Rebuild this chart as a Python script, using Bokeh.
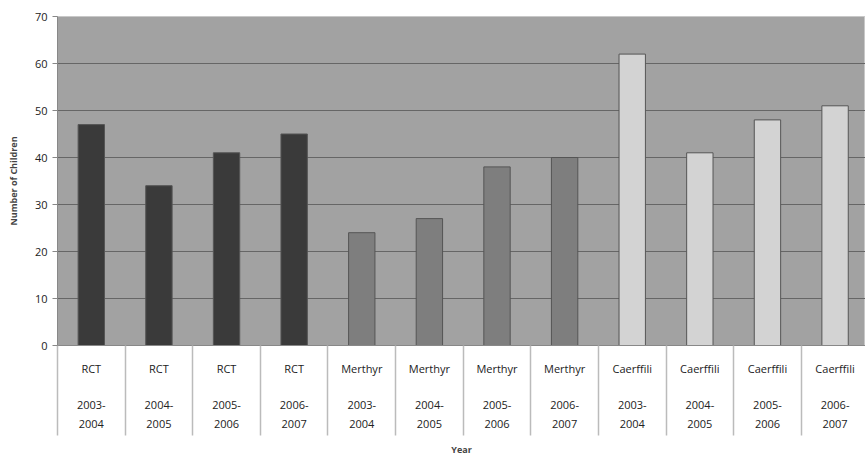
from bokeh.plotting import figure
from bokeh.models import Range1d, FixedTicker, ColumnDataSource
from bokeh.embed import file_html
from bokeh.resources import INLINE

regions = ["RCT"] * 4 + ["Merthyr"] * 4 + ["Caerffili"] * 4
years = ["2003-\n2004", "2004-\n2005", "2005-\n2006", "2006-\n2007"] * 3
values = [47, 34, 41, 45, 24, 27, 38, 40, 62, 41, 48, 51]
colors = ["#3a3a3a"] * 4 + ["#7e7e7e"] * 4 + ["#d3d3d3"] * 4

xs = [i + 0.5 for i in range(len(values))]
src = ColumnDataSource(dict(x=xs, top=values, color=colors))

p = figure(width=865, height=458, output_backend="svg", toolbar_location=None,
           x_range=Range1d(0, 11.95), y_range=Range1d(0, 70),
           min_border_left=57, min_border_right=0, min_border_top=16, min_border_bottom=0)
p.background_fill_color = "#a2a2a2"
p.border_fill_color = "white"
p.outline_line_color = "#c8c8c8"

p.vbar(x="x", top="top", width=0.39, bottom=0, fill_color="color",
       line_color="#555555", line_width=1, source=src)

# y axis
p.yaxis.ticker = FixedTicker(ticks=list(range(0, 71, 10)))
p.yaxis.axis_line_color = "#888888"
p.yaxis.major_tick_line_color = "#888888"
p.yaxis.major_tick_in = 0
p.yaxis.major_tick_out = 5
p.yaxis.minor_tick_line_color = None
p.yaxis.major_label_text_font_size = "11px"
p.yaxis.major_label_text_font = "Open Sans"
p.yaxis.major_label_text_color = "#222222"
p.yaxis.axis_label = "Number of Children"
p.yaxis.axis_label_text_font_size = "9px"
p.yaxis.axis_label_text_font_style = "bold"
p.yaxis.axis_label_text_font = "Open Sans"
p.yaxis.axis_label_standoff = 12

p.ygrid.grid_line_color = "#666666"
p.ygrid.grid_line_width = 1
p.xgrid.grid_line_color = None

# x axis: labels at centres, dividers as minor ticks at cell boundaries
p.xaxis.ticker = FixedTicker(ticks=xs, minor_ticks=list(range(0, 13)))
p.xaxis.major_label_overrides = {x: f"{r}\n\n{y}" for x, r, y in zip(xs, regions, years)}
p.xaxis.major_tick_line_color = None
p.xaxis.minor_tick_in = 0
p.xaxis.minor_tick_out = 90
p.xaxis.minor_tick_line_color = "#bbbbbb"
p.xaxis.minor_tick_line_width = 1.5
p.xaxis.axis_line_color = "#888888"
p.xaxis.major_label_standoff = -75
p.xaxis.major_label_text_font_size = "11px"
p.xaxis.major_label_text_font = "Open Sans"
p.xaxis.major_label_text_color = "#222222"
p.xaxis.major_label_text_line_height = 1.23
p.xaxis.axis_label = "Year"
p.xaxis.axis_label_text_font_size = "9px"
p.xaxis.axis_label_text_font_style = "bold"
p.xaxis.axis_label_text_font = "Open Sans"
p.xaxis.axis_label_standoff = 9

open("out.html", "w").write(file_html(p, INLINE))
